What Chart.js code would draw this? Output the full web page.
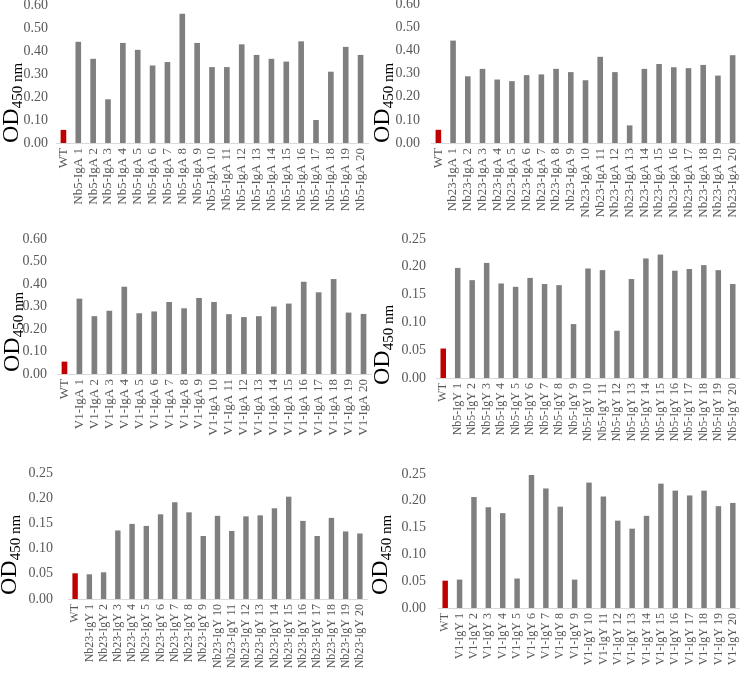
<!DOCTYPE html>
<html>
<head>
<meta charset="utf-8">
<script src="https://cdn.jsdelivr.net/npm/chart.js@4"></script>
<style>
body { margin: 0; background: #fff; width: 740px; height: 678px; overflow: hidden; position: relative; }
canvas { position: absolute; }
</style>
</head>
<body>
<canvas id="c1"></canvas>
<canvas id="c2"></canvas>
<canvas id="c3"></canvas>
<canvas id="c4"></canvas>
<canvas id="c5"></canvas>
<canvas id="c6"></canvas>
<script>
// values (OD450 nm), first entry is WT
const nb5IgA = [0.057, 0.440, 0.366, 0.190, 0.435, 0.405, 0.337, 0.352, 0.562, 0.435, 0.330, 0.330, 0.429, 0.383, 0.366, 0.354, 0.442, 0.100, 0.310, 0.418, 0.383]
const nb23IgA = [0.057, 0.442, 0.288, 0.320, 0.274, 0.267, 0.293, 0.296, 0.320, 0.306, 0.271, 0.372, 0.306, 0.076, 0.320, 0.341, 0.327, 0.323, 0.337, 0.291, 0.379]
const v1IgA = [0.055, 0.335, 0.257, 0.281, 0.388, 0.270, 0.278, 0.320, 0.292, 0.338, 0.320, 0.266, 0.253, 0.257, 0.300, 0.313, 0.410, 0.363, 0.422, 0.273, 0.267]
const nb5IgY = [0.053, 0.198, 0.176, 0.207, 0.170, 0.164, 0.180, 0.169, 0.167, 0.097, 0.197, 0.194, 0.085, 0.178, 0.215, 0.222, 0.193, 0.196, 0.203, 0.194, 0.169]
const nb23IgY = [0.051, 0.049, 0.053, 0.136, 0.149, 0.145, 0.168, 0.192, 0.172, 0.125, 0.165, 0.135, 0.164, 0.166, 0.180, 0.203, 0.155, 0.125, 0.161, 0.134, 0.130]
const v1IgY = [0.051, 0.053, 0.207, 0.188, 0.177, 0.055, 0.248, 0.223, 0.189, 0.053, 0.234, 0.208, 0.163, 0.148, 0.172, 0.232, 0.219, 0.210, 0.219, 0.190, 0.196]

const clones = [1, 2, 3, 4, 5, 6, 7, 8, 9, 10, 11, 12, 13, 14, 15, 16, 17, 18, 19, 20]
const labels = (name) => ['WT'].concat(clones.map(n => name + ' ' + n))

// y axis ticks
const igaMax = 0.6, igaStep = 0.1
const igyMax = 0.25, igyStep = 0.05

const red = '#c00000'
const grey = '#7f7f7f'
const txt = '#595959'
const serif = '"Liberation Serif", "Times New Roman", serif'

// OD450 nm axis title with subscript
const odTitle = {
    id: 'odTitle',
    afterDraw(chart, args, opts) {
        const ctx = chart.ctx
        ctx.save()
        ctx.translate(opts.x, opts.y)
        ctx.rotate(-Math.PI / 2)
        ctx.fillStyle = '#000'
        ctx.textBaseline = 'alphabetic'
        ctx.font = '24px ' + serif
        ctx.fillText('OD', 0, 0)
        const w = ctx.measureText('OD').width
        ctx.font = '15px ' + serif
        ctx.fillText('450 nm', w, 4)
        ctx.restore()
    }
}

function makeChart(id, box, plot, title, cats, values, yMax, yStep, fs) {
    const cv = document.getElementById(id)
    cv.width = box.w
    cv.height = box.h
    cv.style.left = box.x + 'px'
    cv.style.top = box.y + 'px'
    new Chart(cv, {
        type: 'bar',
        data: {
            labels: cats,
            datasets: [{
                data: values,
                backgroundColor: values.map((v, i) => i === 0 ? red : grey),
                borderWidth: 0,
                barPercentage: 0.38,
                categoryPercentage: 1
            }]
        },
        options: {
            responsive: false,
            animation: false,
            layout: { padding: { left: 0, bottom: 0, top: plot.t - box.y, right: box.x + box.w - plot.r } },
            plugins: {
                legend: { display: false },
                tooltip: { enabled: false },
                odTitle: { x: title.x - box.x, y: title.y - box.y }
            },
            scales: {
                x: {
                    grid: { display: false, drawTicks: false },
                    border: { display: true, color: '#d9d9d9', width: 1 },
                    ticks: {
                        autoSkip: false, minRotation: 90, maxRotation: 90, padding: 5,
                        color: txt, font: { family: serif, size: fs }
                    },
                    afterFit(s) {
                        s.height = box.y + box.h - plot.b
                        s.paddingLeft = 0; s.paddingRight = 0
                    }
                },
                y: {
                    min: 0, max: yMax,
                    grid: { display: false, drawTicks: false },
                    border: { display: false },
                    ticks: {
                        stepSize: yStep, padding: plot.pad,
                        color: txt, font: { family: serif, size: 14 },
                        callback: v => v.toFixed(2)
                    },
                    afterFit(s) {
                        s.width = plot.l - box.x
                        s.paddingTop = 0; s.paddingBottom = 0
                    }
                }
            }
        },
        plugins: [odTitle]
    })
}

makeChart('c1', { x: 0, y: 0, w: 370, h: 225 }, { l: 56, r: 368, t: 5, b: 143, pad: 8 }, { x: 18, y: 143 },
    labels('Nb5-IgA'), nb5IgA, igaMax, igaStep, 13)
makeChart('c2', { x: 370, y: 0, w: 370, h: 225 }, { l: 431, r: 740, t: 4, b: 143, pad: 11 }, { x: 389, y: 143 },
    labels('Nb23-IgA'), nb23IgA, igaMax, igaStep, 13)
makeChart('c3', { x: 0, y: 225, w: 372, h: 225 }, { l: 57, r: 371, t: 239, b: 374, pad: 10 }, { x: 19, y: 372 },
    labels('V1-IgA'), v1IgA, igaMax, igaStep, 13)
makeChart('c4', { x: 370, y: 225, w: 370, h: 225 }, { l: 436, r: 740, t: 239, b: 378, pad: 10 }, { x: 389, y: 385 },
    labels('Nb5-IgY'), nb5IgY, igyMax, igyStep, 12)
makeChart('c5', { x: 0, y: 450, w: 370, h: 228 }, { l: 68, r: 367, t: 473, b: 599, pad: 15 }, { x: 16, y: 595 },
    labels('Nb23-IgY'), nb23IgY, igyMax, igyStep, 12)
makeChart('c6', { x: 370, y: 450, w: 370, h: 228 }, { l: 438, r: 740, t: 474, b: 608, pad: 12 }, { x: 387, y: 595 },
    labels('V1-IgY'), v1IgY, igyMax, igyStep, 12)
</script>
</body>
</html>
